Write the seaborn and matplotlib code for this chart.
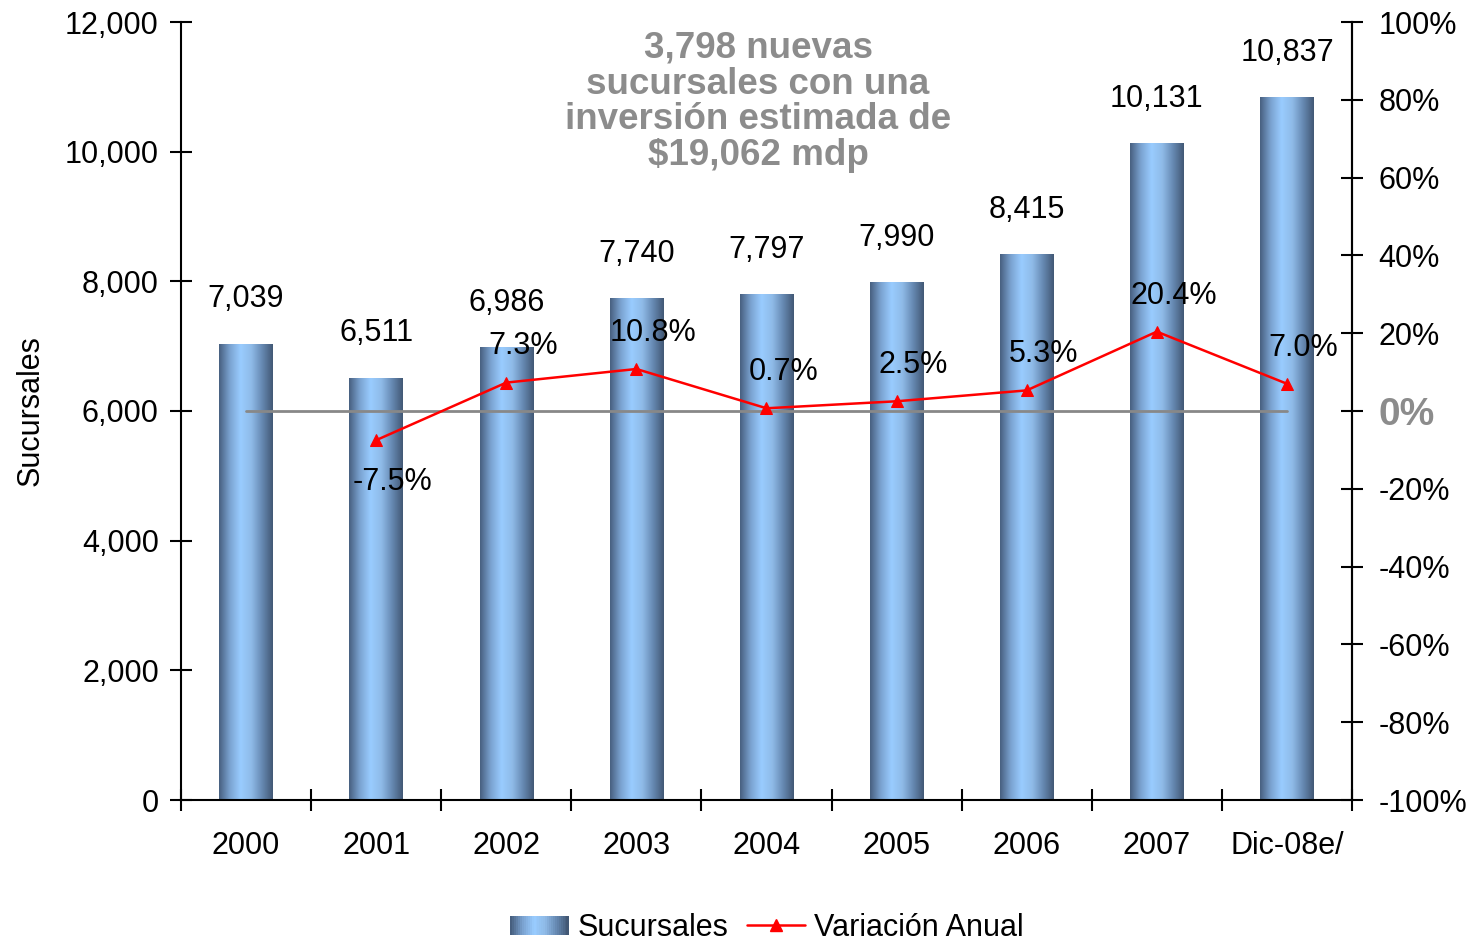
import numpy as np
import pandas as pd
import seaborn as sns
import matplotlib.pyplot as plt
from matplotlib.colors import LinearSegmentedColormap
from matplotlib.legend_handler import HandlerBase
from matplotlib.patches import Rectangle
from matplotlib.lines import Line2D

# datos
years = ['2000', '2001', '2002', '2003', '2004', '2005', '2006', '2007', 'Dic-08e/']
sucursales = [7039, 6511, 6986, 7740, 7797, 7990, 8415, 10131, 10837]
variacion = [np.nan, -7.5, 7.3, 10.8, 0.7, 2.5, 5.3, 20.4, 7.0]

sns.set_style("white")
plt.rcParams['font.family'] = ['Liberation Sans', 'DejaVu Sans']
plt.rcParams['text.color'] = 'black'
plt.rcParams['axes.labelcolor'] = 'black'
plt.rcParams['xtick.color'] = 'black'
plt.rcParams['ytick.color'] = 'black'

grad = LinearSegmentedColormap.from_list(
    'barra', ['#475f7f', '#7aa2d0', '#99ccff', '#8fbbe8', '#6689b2', '#425875'])

df = pd.DataFrame({'anio': years, 'sucursales': sucursales, 'var': variacion})

fig = plt.figure(figsize=(14.7, 9.41), dpi=100)
ax = fig.add_axes([181 / 1470, 1 - 800 / 941, (1352 - 181) / 1470, 778 / 941])

sns.barplot(data=df, x='anio', y='sucursales', ax=ax, width=0.41,
            color='#99ccff', saturation=1)
ax.set_xlim(-0.5, 8.5)
ax.set_ylim(0, 12000)

# degradado en cada barra
img = np.linspace(0, 1, 256).reshape(1, -1)
for p in ax.patches:
    x0, y0 = p.get_x(), p.get_y()
    w, h = p.get_width(), p.get_height()
    im = ax.imshow(img, cmap=grad, aspect='auto', extent=[x0, x0 + w, y0, y0 + h],
                   zorder=2, interpolation='bicubic')
    im.set_clip_path(p)
    p.set_facecolor('none')
    p.set_edgecolor('none')
ax.set_xlim(-0.5, 8.5)
ax.set_ylim(0, 12000)

for i, v in enumerate(sucursales):
    ax.annotate(f'{v:,}', (i, v), xytext=(0, 32), textcoords='offset points',
                ha='center', va='center', fontsize=22, zorder=5)

ax.set_xlabel('')
ax.set_ylabel('Sucursales', fontsize=22, labelpad=14)
ax.set_yticks(range(0, 12001, 2000))
ax.set_yticklabels([f'{v:,}' for v in range(0, 12001, 2000)])
ax.set_xticks(range(len(years)))
ax.set_xticklabels(years)
ax.set_xticks(np.arange(-0.5, 8.6, 1), minor=True)
ax.tick_params(axis='x', which='major', length=0, pad=22, labelsize=22)
ax.tick_params(axis='x', which='minor', length=16, width=1.5, direction='inout', bottom=True)
ax.tick_params(axis='y', length=16, width=1.5, direction='inout', labelsize=22, pad=8, left=True)
for s in ['left', 'bottom', 'right']:
    ax.spines[s].set_linewidth(1.5)
    ax.spines[s].set_color('black')
ax.spines['top'].set_visible(False)

# eje derecho
ax2 = ax.twinx()
ax2.set_ylim(-100, 100)
ax2.plot([0, 8], [0, 0], color='#888888', lw=2, zorder=1)
sns.lineplot(x=list(range(len(years))), y=variacion, ax=ax2, color='red', lw=1.8,
             marker='^', markersize=9, markeredgecolor='red', zorder=3)
for i, v in enumerate(variacion):
    if np.isnan(v):
        continue
    dy = -30 if v < 0 else 26
    ax2.annotate(f'{v:.1f}%', (i, v), xytext=(12, dy), textcoords='offset points',
                 ha='center', va='center', fontsize=22, zorder=5)
ax2.set_yticks(range(-100, 101, 20))
ax2.set_yticklabels([f'{t}%' for t in range(-100, 101, 20)])
ax2.tick_params(axis='y', length=16, width=1.5, direction='inout', labelsize=22, pad=11, right=True)
for lab in ax2.get_yticklabels():
    if lab.get_text() == '0%':
        lab.set_fontweight('bold')
        lab.set_color('#8c8c8c')
        lab.set_fontsize(28)
for s in ax2.spines.values():
    s.set_visible(False)
ax2.spines['right'].set_visible(True)
ax2.spines['right'].set_linewidth(1.5)
ax2.spines['right'].set_color('black')
ax2.set_xlim(-0.5, 8.5)

fig.text(758 / 1470, 1 - 102 / 941,
         '3,798 nuevas\nsucursales con una\ninversión estimada de\n\\$19,062 mdp',
         ha='center', va='center', fontsize=26.5, fontweight='bold', color='#8c8c8c',
         linespacing=1.03)


class GradHandler(HandlerBase):
    def create_artists(self, legend, orig_handle, xdescent, ydescent, width, height,
                       fontsize, trans):
        n = 30
        arts = []
        for k in range(n):
            r = Rectangle((-xdescent + width * k / n, -ydescent + 0.05 * height),
                          width / n + 0.3, height * 0.9,
                          facecolor=grad(k / (n - 1)), edgecolor='none', transform=trans)
            arts.append(r)
        return arts


bar_h = Rectangle((0, 0), 1, 1)
line_h = Line2D([], [], color='red', lw=1.8, marker='^', markersize=9)
fig.legend([bar_h, line_h], ['Sucursales', 'Variación Anual'],
           handler_map={Rectangle: GradHandler()}, loc='center',
           bbox_to_anchor=(767 / 1470, 1 - 928 / 941), ncol=2, frameon=False,
           fontsize=22, handlelength=1.9, handletextpad=0.3, columnspacing=0.6)

plt.savefig('out.png', dpi=100)
